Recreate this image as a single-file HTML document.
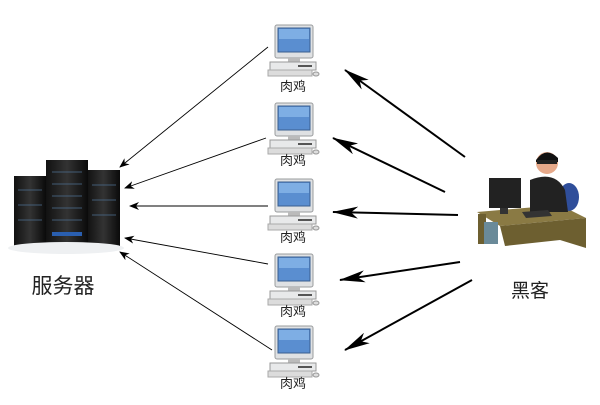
<!DOCTYPE html>
<html><head><meta charset="utf-8"><style>
body{margin:0;width:600px;height:400px;background:#fff;overflow:hidden;font-family:"Liberation Sans","Noto Sans CJK SC",sans-serif}
</style></head><body>
<svg width="600" height="400" viewBox="0 0 600 400" xmlns="http://www.w3.org/2000/svg">
<defs>
<g id="pc">
 <rect x="7" y="0" width="38" height="33" rx="2" fill="#dfe1e3" stroke="#9a9c9e"/>
 <rect x="10" y="3" width="32" height="24" fill="#5a8ed0" stroke="#3a5f8f"/>
 <rect x="11" y="4" width="30" height="10" fill="#7eaee4"/>
 <rect x="20" y="33" width="12" height="4" fill="#bbb"/>
 <rect x="2" y="37" width="46" height="8" fill="#e8e9ea" stroke="#999"/>
 <rect x="30" y="40" width="14" height="2" fill="#555"/>
 <rect x="0" y="45" width="44" height="6" fill="#dcdcdc" stroke="#aaa"/>
 <ellipse cx="48" cy="49" rx="3" ry="2" fill="#ddd" stroke="#999"/>
</g>
<marker id="ah" markerWidth="10" markerHeight="8" refX="9" refY="4" orient="auto" markerUnits="userSpaceOnUse"><path d="M0,0 L10,4 L0,8 L3,4z" fill="#000"/></marker>
<marker id="bh" markerWidth="26" markerHeight="12" refX="25" refY="6" orient="auto" markerUnits="userSpaceOnUse"><path d="M0,0 L26,6 L0,12 L7,6z" fill="#000"/></marker>
<linearGradient id="rk" x1="0" x2="1"><stop offset="0" stop-color="#111"/><stop offset=".5" stop-color="#333"/><stop offset="1" stop-color="#0a0a0a"/></linearGradient>
</defs>
<g fill="none" stroke="#000">
 <line x1="268" y1="47" x2="120" y2="167" stroke-width="0.9" marker-end="url(#ah)"/>
 <line x1="266" y1="138" x2="125" y2="188" stroke-width="0.9" marker-end="url(#ah)"/>
 <line x1="268" y1="206" x2="130" y2="206" stroke-width="0.9" marker-end="url(#ah)"/>
 <line x1="268" y1="264" x2="125" y2="238" stroke-width="0.9" marker-end="url(#ah)"/>
 <line x1="272" y1="350" x2="120" y2="252" stroke-width="0.9" marker-end="url(#ah)"/>
 <line x1="465" y1="157" x2="345" y2="70" stroke-width="2" marker-end="url(#bh)"/>
 <line x1="445" y1="192" x2="333" y2="138" stroke-width="2" marker-end="url(#bh)"/>
 <line x1="458" y1="215" x2="333" y2="212" stroke-width="2" marker-end="url(#bh)"/>
 <line x1="460" y1="262" x2="340" y2="280" stroke-width="2" marker-end="url(#bh)"/>
 <line x1="472" y1="280" x2="345" y2="350" stroke-width="2" marker-end="url(#bh)"/>
</g>
<use href="#pc" x="268" y="25"/><use href="#pc" x="268" y="103"/><use href="#pc" x="268" y="179"/><use href="#pc" x="268" y="254"/><use href="#pc" x="268" y="326"/>
<g font-size="13" text-anchor="middle" fill="#222">
 <text x="293" y="91">肉鸡</text><text x="293" y="165">肉鸡</text><text x="293" y="242">肉鸡</text><text x="293" y="316">肉鸡</text><text x="293" y="388">肉鸡</text>
</g>
<rect x="14" y="176" width="32" height="72" fill="url(#rk)"/>
<rect x="87" y="170" width="33" height="78" fill="url(#rk)"/>
<rect x="46" y="160" width="42" height="90" fill="url(#rk)"/>
<g stroke="#4a6a8a" stroke-width="1" opacity=".8">
 <line x1="52" y1="172" x2="82" y2="172"/><line x1="52" y1="184" x2="82" y2="184"/><line x1="52" y1="196" x2="82" y2="196"/><line x1="52" y1="208" x2="82" y2="208"/><line x1="52" y1="220" x2="82" y2="220"/>
 <line x1="18" y1="190" x2="42" y2="190"/><line x1="18" y1="205" x2="42" y2="205"/><line x1="18" y1="220" x2="42" y2="220"/>
 <line x1="92" y1="185" x2="116" y2="185"/><line x1="92" y1="200" x2="116" y2="200"/><line x1="92" y1="215" x2="116" y2="215"/>
</g>
<rect x="52" y="232" width="30" height="4" fill="#2a5fb0"/>
<ellipse cx="66" cy="248" rx="58" ry="6" fill="#eef0f2"/>
<text x="63" y="293" font-size="21" text-anchor="middle" fill="#222">服务器</text>
<path d="M477 212 L560 205 L586 218 L500 226z" fill="#8a7a44"/>
<path d="M500 226 L586 218 L586 248 L560 240 L505 246z" fill="#6d5f30"/>
<rect x="478" y="214" width="8" height="30" fill="#6d5f30"/>
<rect x="489" y="178" width="32" height="30" fill="#222"/>
<rect x="500" y="208" width="8" height="6" fill="#333"/>
<rect x="484" y="222" width="14" height="22" fill="#6a8a99"/>
<ellipse cx="569" cy="197" rx="10" ry="14" fill="#2f4e9a"/>
<path d="M530 180 Q555 170 565 190 L568 212 L530 212z" fill="#222"/>
<circle cx="547" cy="163" r="11" fill="#e6a98a"/>
<path d="M536 160 Q546 146 558 158 L558 162 L536 162z" fill="#111"/>
<rect x="537" y="160" width="20" height="4" fill="#222"/>
<path d="M522 212 L548 210 L552 216 L526 218z" fill="#333"/>
<text x="530" y="297" font-size="19" text-anchor="middle" fill="#222">黑客</text>
</svg>
</body></html>
